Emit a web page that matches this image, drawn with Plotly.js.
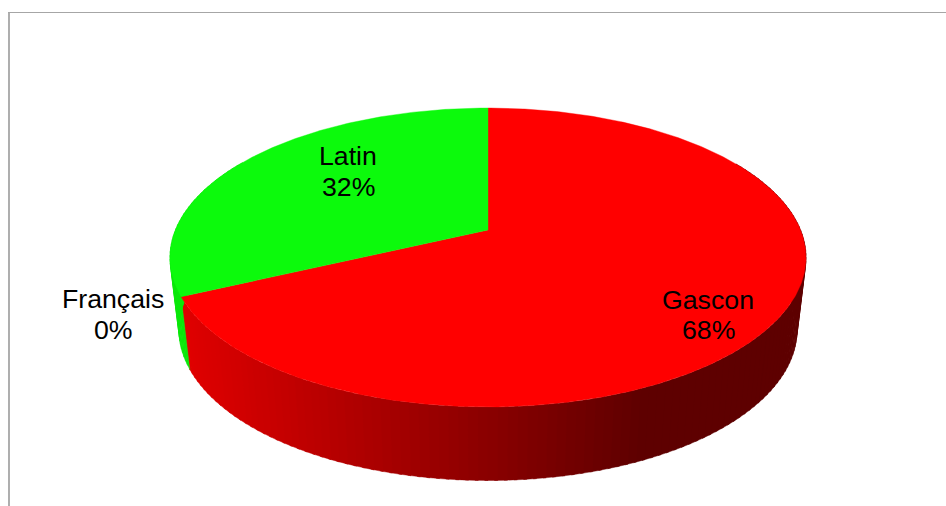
<!DOCTYPE html>
<html>
<head>
<meta charset="utf-8">
<script src="https://cdn.plot.ly/plotly-3.0.1.min.js"></script>
<style>html,body{margin:0;padding:0;background:#fff;overflow:hidden}#chart{width:946px;height:506px}</style>
</head>
<body>
<div id="chart"></div>
<script>
// Data (clockwise from 12 o'clock)
const categories = ["Gascon", "Français", "Latin"];
const shares = [68, 0, 32];
const percentLabels = ["68%", "0%", "32%"];

// Style
const topColors = ["#ff0000", "#00e000", "#0cfa0c"];
const labelFont = "Liberation Sans, Arial, sans-serif";
const labelSize = 26.7;
const labelSpots = {Gascon: [708, 300, 330], "Français": [113, 299, 330], Latin: [348, 156, 187]};

// Perspective projection of the pie disc onto the page
const W = 946, H = 506;
const cx = 488, hubY = 230, persp = -0.184, yScale = 102.1, xScale = 312.6;
const topMidY = 257.5, botMidY = 330, botXScale = 309 / 318, botYScale = 151 / 150;

function topPoint(deg) {
  const t = deg * Math.PI / 180, u = Math.sin(t), v = -Math.cos(t), d = 1 + persp * v;
  return [cx + xScale * u / d, (yScale * v + hubY) / d];
}
function bottomPoint(deg) {
  const p = topPoint(deg);
  return [cx + (p[0] - cx) * botXScale, botMidY + (p[1] - topMidY) * botYScale];
}
function wallColor(idx, x) {
  if (categories[idx] === "Latin") return "rgb(10,232,10)";
  const r = Math.round(Math.max(94, Math.min(228, 224 - 0.29 * (x - 190))));
  return "rgb(" + r + ",0,0)";
}

const total = shares.reduce((a, b) => a + b, 0);
const spans = [];
let acc = 0;
shares.forEach((s, i) => { const a = acc / total * 360; acc += s; spans.push([a, acc / total * 360, i]); });

const traces = [];
const common = {type: "scatter", mode: "lines", fill: "toself", hoverinfo: "skip", showlegend: false};

// Side wall, front part only, split into narrow strips for the shading
const step = 1.5;
spans.forEach(([a0, a1, i]) => {
  for (let a = Math.max(a0, 60); a < Math.min(a1, 300); a += step) {
    const b = Math.min(a + step + 0.5, a1);
    const p0 = topPoint(a), p1 = topPoint(b), q1 = bottomPoint(b), q0 = bottomPoint(a);
    const col = wallColor(i, (q0[0] + q1[0]) / 2);
    traces.push(Object.assign({}, common, {
      x: [p0[0], p1[0], q1[0], q0[0], p0[0]],
      y: [p0[1], p1[1], q1[1], q0[1], p0[1]],
      fillcolor: col, line: {color: col, width: 0.4}
    }));
  }
});

// Top faces
spans.forEach(([a0, a1, i]) => {
  if (a1 <= a0) return;
  const xs = [cx], ys = [hubY];
  for (let a = a0; a <= a1 + 1e-6; a += 0.5) { const p = topPoint(a); xs.push(p[0]); ys.push(p[1]); }
  const pe = topPoint(a1); xs.push(pe[0], cx); ys.push(pe[1], hubY);
  traces.push(Object.assign({}, common, {x: xs, y: ys, fillcolor: topColors[i], line: {color: topColors[i], width: 0.4}}));
});

// Labels
const annotations = [];
categories.forEach((c, i) => {
  const s = labelSpots[c];
  [[c, s[1]], [percentLabels[i], s[2]]].forEach(([t, y]) => annotations.push({
    x: s[0], y: y, xref: "x", yref: "y", text: t, showarrow: false,
    xanchor: "center", yanchor: "middle", font: {family: labelFont, size: labelSize, color: "#000"}
  }));
});

const frame = "#a6a6a6";
const layout = {
  width: W, height: H, margin: {l: 0, r: 0, t: 0, b: 0}, paper_bgcolor: "#fff", plot_bgcolor: "#fff",
  xaxis: {range: [0, W], visible: false, fixedrange: true},
  yaxis: {range: [H, 0], visible: false, fixedrange: true},
  showlegend: false, annotations: annotations,
  shapes: [
    {type: "line", xref: "x", yref: "y", x0: 9, x1: 9, y0: 12, y1: H, line: {color: frame, width: 1.8}},
    {type: "line", xref: "x", yref: "y", x0: 8, x1: W, y0: 12.5, y1: 12.5, line: {color: frame, width: 1.2}}
  ]
};
Plotly.newPlot("chart", traces, layout, {displayModeBar: false, staticPlot: true});
</script>
</body>
</html>
